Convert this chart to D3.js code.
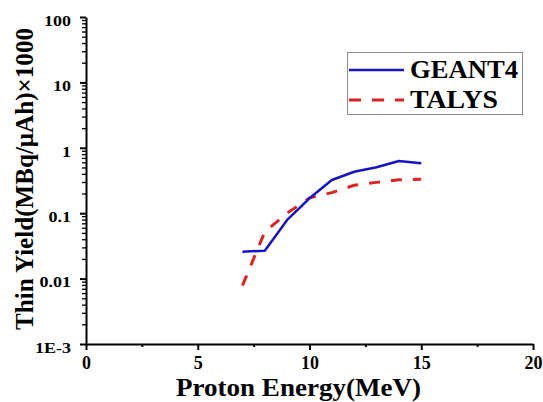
<!DOCTYPE html>
<html>
<head>
<meta charset="utf-8">
<script src="https://cdn.jsdelivr.net/npm/d3@7"></script>
<style>
  html, body { margin: 0; padding: 0; background: #fff; }
  svg { display: block; font-family: "Liberation Serif", "Times New Roman", serif; font-weight: bold; }
</style>
</head>
<body>
<svg id="chart" width="543" height="402"></svg>
<script>
// Proton energies (MeV)
const energies = [7, 8, 9, 10, 11, 12, 13, 14, 15];
// Thin-target yield (MBq/µAh) x 1000
const geant4 = [0.0258, 0.0267, 0.079, 0.169, 0.322, 0.431, 0.503, 0.628, 0.58];
const talys  = [0.0078, 0.052, 0.10, 0.172, 0.206, 0.267, 0.296, 0.325, 0.33];

const xTicks = [0, 5, 10, 15, 20];
const xMinorTicks = [2.5, 7.5, 12.5, 17.5];
const yTicks = [1e-3, 0.01, 0.1, 1, 10, 100];
const yTickLabels = ["1E-3", "0.01", "0.1", "1", "10", "100"];

const seriesNames = ["GEANT4", "TALYS"];
const seriesColors = ["#1414c4", "#e02222"];

const svg = d3.select("#chart");

const x = d3.scaleLinear().domain([0, 20]).range([86, 533]);
const y = d3.scaleLog().domain([1e-3, 100]).range([344, 17]);

// minor log ticks (2..9 in each decade)
const yMinor = [];
for (let d = -3; d < 2; d++) {
  for (let m = 2; m <= 9; m++) yMinor.push(m * Math.pow(10, d));
}

// x axis
const xAxis = svg.append("g").attr("transform", `translate(0,${y.range()[0]})`);
xAxis.call(d3.axisBottom(x).tickValues(xMinorTicks).tickSize(3).tickFormat(""));
xAxis.call(g => g.select(".domain").remove());
const xMajor = svg.append("g").attr("transform", `translate(0,${y.range()[0]})`)
  .call(d3.axisBottom(x).tickValues(xTicks).tickSize(6).tickSizeOuter(0).tickPadding(6).tickFormat(d3.format("d")));
[xAxis, xMajor].forEach(g => {
  g.selectAll("line").attr("stroke", "#000").attr("stroke-width", 2);
});
xMajor.select(".domain").attr("stroke", "#000").attr("stroke-width", 2);
xMajor.selectAll("text")
  .attr("fill", "#000")
  .style("font-size", "18px")
  .style("font-family", "Liberation Serif, serif")
  .style("font-weight", "bold");

// y axis
const yMinorG = svg.append("g").attr("transform", `translate(${x.range()[0]},0)`)
  .call(d3.axisLeft(y).tickValues(yMinor).tickSize(4).tickFormat(""));
yMinorG.select(".domain").remove();
yMinorG.selectAll("line").attr("stroke", "#000").attr("stroke-width", 1.3);

const yMajorG = svg.append("g").attr("transform", `translate(${x.range()[0]},0)`)
  .call(d3.axisLeft(y).tickValues(yTicks).tickSize(6).tickSizeOuter(0).tickPadding(9)
    .tickFormat((d, i) => yTickLabels[i]));
yMajorG.select(".domain").attr("stroke", "#000").attr("stroke-width", 2);
yMajorG.selectAll("line").attr("stroke", "#000").attr("stroke-width", 2);
yMajorG.selectAll("text")
  .attr("fill", "#000")
  .attr("dy", "0.55em")
  .style("font-size", "15px")
  .style("font-family", "Liberation Serif, serif")
  .style("font-weight", "bold")
  .each(function () {
    const w = this.getComputedTextLength();
    d3.select(this).attr("textLength", w * 1.2).attr("lengthAdjust", "spacingAndGlyphs");
  });

// series lines
const line = d3.line().x((d, i) => x(energies[i])).y(d => y(d));

svg.append("path")
  .datum(talys)
  .attr("d", line)
  .attr("fill", "none")
  .attr("stroke", seriesColors[1])
  .attr("stroke-width", 3)
  .attr("stroke-dasharray", "11,11");

svg.append("path")
  .datum(geant4)
  .attr("d", line)
  .attr("fill", "none")
  .attr("stroke", seriesColors[0])
  .attr("stroke-width", 2.5)
  .attr("stroke-linejoin", "round");

// legend
const legend = svg.append("g");
legend.append("rect")
  .attr("x", 347.5).attr("y", 52.5).attr("width", 175).attr("height", 62)
  .attr("fill", "#fff").attr("stroke", "#8a8a8a").attr("stroke-width", 1);

const legendRows = [
  { name: seriesNames[0], color: seriesColors[0], dash: null, width: 2.5, ly: 70, ty: 78, tl: 108 },
  { name: seriesNames[1], color: seriesColors[1], dash: "12,11", width: 3, ly: 100, ty: 108, tl: 88 }
];
legendRows.forEach(r => {
  legend.append("line")
    .attr("x1", 349).attr("x2", 404).attr("y1", r.ly).attr("y2", r.ly)
    .attr("stroke", r.color).attr("stroke-width", r.width)
    .attr("stroke-dasharray", r.dash);
  legend.append("text")
    .attr("x", 410).attr("y", r.ty)
    .attr("textLength", r.tl).attr("lengthAdjust", "spacingAndGlyphs")
    .style("font-size", "25px")
    .text(r.name);
});

// axis titles
svg.append("text")
  .attr("x", 176).attr("y", 396)
  .attr("textLength", 245).attr("lengthAdjust", "spacingAndGlyphs")
  .style("font-size", "26px")
  .text("Proton Energy(MeV)");

svg.append("text")
  .attr("transform", "translate(33,330) rotate(-90)")
  .attr("x", 0).attr("y", 0)
  .attr("textLength", 302).attr("lengthAdjust", "spacingAndGlyphs")
  .style("font-size", "26px")
  .text("Thin Yield(MBq/\u03BCAh)\u00D71000");
</script>
</body>
</html>
